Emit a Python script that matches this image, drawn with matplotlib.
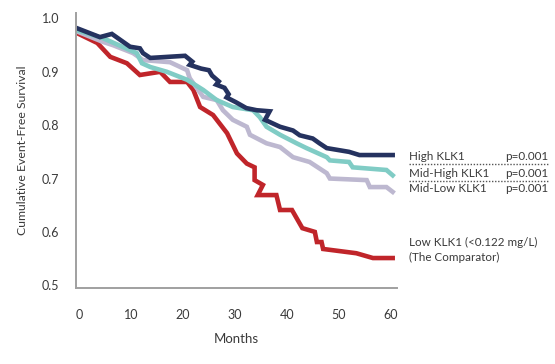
import matplotlib.pyplot as plt
from matplotlib.lines import Line2D

# === Curve data (months, cumulative event-free survival) ===
high_t = [-0.5, 4, 6.3, 9.8, 11.7, 12.3, 13.7, 20.4, 21.8, 21.3, 23.5, 25.0, 25.6, 26.9, 26.4,
          28.0, 28.8, 28.4, 30.2, 32.2, 34.2, 36.7, 35.8, 38.7, 41.2, 42.5, 45, 46.3, 47.7, 52,
          54, 60.4]
high_v = [0.982, 0.965, 0.971, 0.947, 0.944, 0.935, 0.926, 0.930, 0.919, 0.913, 0.906, 0.903,
          0.893, 0.882, 0.876, 0.870, 0.858, 0.852, 0.843, 0.832, 0.828, 0.826, 0.810, 0.797,
          0.79, 0.781, 0.775, 0.766, 0.757, 0.75, 0.744, 0.744]

midhigh_t = [-0.5, 4.6, 11.1, 12.1, 13.7, 16.9, 20.8, 23.9, 26.5, 29.6, 33.5, 34.8, 36.1, 38.7,
             41.9, 43.8, 47.7, 48.3, 52, 52.7, 59.2, 60.4]
midhigh_v = [0.978, 0.963, 0.935, 0.916, 0.909, 0.9, 0.885, 0.866, 0.847, 0.834, 0.828, 0.815,
             0.797, 0.782, 0.766, 0.757, 0.74, 0.734, 0.731, 0.721, 0.716, 0.706]

midlow_t = [-0.5, 4.6, 6.5, 10.4, 12.3, 17.5, 20.8, 21.3, 23.9, 26.5, 27.7, 29.6, 32.3, 32.9,
            36.1, 38.7, 41.2, 44.4, 47.7, 48.3, 55.4, 56, 59.2, 60.4]
midlow_v = [0.976, 0.956, 0.95, 0.935, 0.922, 0.918, 0.903, 0.888, 0.853, 0.847, 0.828, 0.81,
            0.797, 0.782, 0.766, 0.759, 0.74, 0.731, 0.71, 0.7, 0.697, 0.684, 0.684, 0.675]

low_t = [-0.5, 3.5, 6, 9.2, 11.7, 15.6, 17.5, 20.8, 22, 23.3, 25.8, 28.5, 30.4, 32.3, 33.8, 33.8,
         35.4, 34.4, 38, 38.7, 41, 43, 45.4, 45.8, 46.7, 47, 53.4, 56.6, 60.4]
low_v = [0.973, 0.954, 0.928, 0.916, 0.894, 0.9, 0.881, 0.881, 0.866, 0.834, 0.819, 0.785, 0.747,
         0.728, 0.721, 0.697, 0.688, 0.669, 0.669, 0.641, 0.641, 0.607, 0.6, 0.581, 0.581, 0.568,
         0.56, 0.551, 0.551]

x_ticks = [0, 10, 20, 30, 40, 50, 60]
y_ticks = [0.5, 0.6, 0.7, 0.8, 0.9, 1.0]

group_labels = ["High KLK1", "Mid-High KLK1", "Mid-Low KLK1"]
p_values = ["p=0.001", "p=0.001", "p=0.001"]
low_label = "Low KLK1 (<0.122 mg/L)\n(The Comparator)"

plt.rcParams["font.family"] = ["Lato", "DejaVu Sans"]
text_col = "#3a3a3a"

fig = plt.figure(figsize=(5.55, 3.64), dpi=100)
ax = fig.add_axes([0.137, 0.209, 0.578, 0.755])

lw = 3.3
ax.plot(low_t, low_v, color="#c0252a", lw=lw, solid_joinstyle="miter")
ax.plot(midlow_t, midlow_v, color="#bdb8d0", lw=lw, solid_joinstyle="miter")
ax.plot(midhigh_t, midhigh_v, color="#80ccc5", lw=lw, solid_joinstyle="miter")
ax.plot(high_t, high_v, color="#25325f", lw=lw, solid_joinstyle="miter")

ax.set_xlim(-0.6, 61.2)
ax.set_ylim(0.495, 1.01)
ax.set_xticks(x_ticks)
ax.set_yticks(y_ticks)
ax.set_yticklabels([f"{v:.1f}" for v in y_ticks])
ax.tick_params(length=0, labelsize=9, colors=text_col)
ax.tick_params(axis="x", pad=15)
ax.tick_params(axis="y", pad=12)

for s in ["top", "right"]:
    ax.spines[s].set_visible(False)
for s in ["left", "bottom"]:
    ax.spines[s].set_color("#a0a0a0")
    ax.spines[s].set_linewidth(1.4)

ax.set_xlabel("Months", fontsize=9.5, color=text_col, labelpad=9)
ax.set_ylabel("Cumulative Event-Free Survival", fontsize=8.8, color=text_col, labelpad=10)

# === Right-hand labels ===
x0, x1 = 409 / 555, 548 / 555
baselines = [159.5, 176.5, 192.5]
for lab, p, py in zip(group_labels, p_values, baselines):
    y = 1 - py / 364
    fig.text(x0, y, lab, fontsize=8.4, color=text_col, va="baseline", ha="left")
    fig.text(x1, y, p, fontsize=8.4, color=text_col, va="baseline", ha="right")

for py in [164, 181]:
    y = 1 - py / 364
    fig.add_artist(Line2D([x0, x1], [y, y], transform=fig.transFigure,
                          color="#555555", lw=1.0, ls=(0, (1, 1.2))))

fig.text(x0, 1 - 261 / 364, low_label, fontsize=8.4, color=text_col,
         va="baseline", ha="left", linespacing=1.4)

fig.savefig("out.png", dpi=100)
